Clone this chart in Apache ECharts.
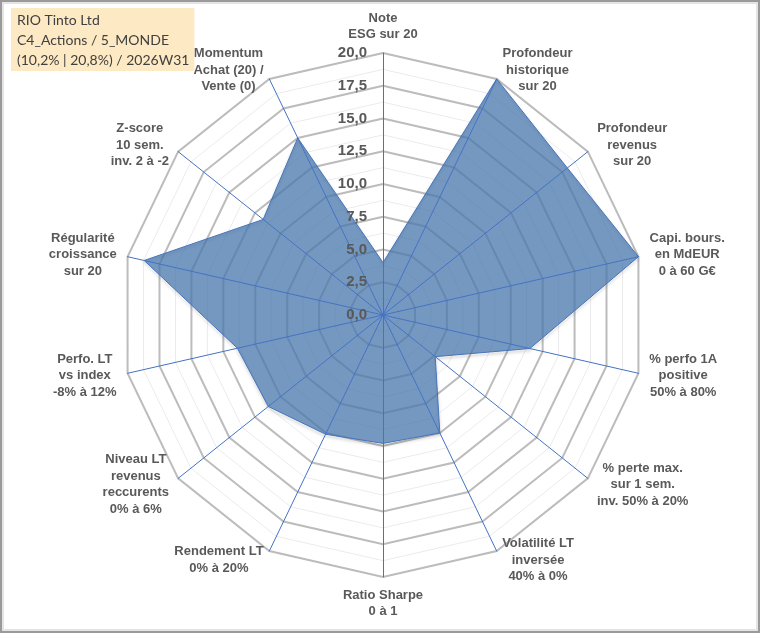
<!DOCTYPE html>
<html>
<head>
<meta charset="utf-8">
<title>RIO Tinto Ltd - radar</title>
<script src="https://cdn.jsdelivr.net/npm/echarts@6/dist/echarts.min.js"></script>
<style>
  html, body { margin: 0; padding: 0; background: #fff; }
  #chart {
    width: 760px; height: 633px; box-sizing: border-box;
    border: 2px solid #9a9a9a;
    box-shadow: inset 0 0 0 2px #e4e4e4;
  }
</style>
</head>
<body>
<div id="chart"></div>
<script>
// axes, clockwise from the top
var axisNames = [
    'Note\nESG sur 20',
    'Profondeur\nhistorique\nsur 20',
    'Profondeur\nrevenus\nsur 20',
    'Capi. bours.\nen MdEUR\n0 à 60 G€',
    '% perfo 1A\npositive\n50% à 80%',
    '% perte max.\nsur 1 sem.\ninv. 50% à 20%',
    'Volatilité LT\ninversée\n40% à 0%',
    'Ratio Sharpe\n0 à 1',
    'Rendement LT\n0% à 20%',
    'Niveau LT\nrevenus\nreccurents\n0% à 6%',
    'Perfo. LT\nvs index\n-8% à 12%',
    'Régularité\ncroissance\nsur 20',
    'Z-score\n10 sem.\ninv. 2 à -2',
    'Momentum\nAchat (20) /\nVente (0)'
];
var scores = [4.0, 20, 18.0, 20, 11.5, 5.1, 10.0, 9.8, 10.1, 11.2, 11.4, 18.7, 11.7, 15.0];
var scaleMax = 20;
var titleLines = ['RIO Tinto Ltd', 'C4_Actions / 5_MONDE', '(10,2% | 20,8%) / 2026W31'];

// echarts lays the indicators counter-clockwise, so flip everything after the first
function clockwise(arr) {
    return [arr[0]].concat(arr.slice(1).reverse());
}
var names = clockwise(axisNames);
var vals = clockwise(scores);

// width of each name block so the lines can be centred inside it
var nameFont = 'bold 13px "Liberation Sans", Arial, sans-serif';
var ctx = document.createElement('canvas').getContext('2d');
ctx.font = nameFont;
var rich = {};
names.forEach(function (n, i) {
    var w = 0;
    n.split('\n').forEach(function (l) { w = Math.max(w, ctx.measureText(l).width); });
    rich['n' + i] = {
        width: Math.ceil(w) + 2,
        align: 'center',
        fontFamily: '"Liberation Sans", Arial, sans-serif',
        fontSize: 13,
        fontWeight: 'bold',
        lineHeight: 16.5,
        color: '#595959'
    };
});

function indicators(withLabel) {
    return names.map(function (n, i) {
        var ind = { name: n, min: 0, max: scaleMax };
        if (withLabel && i === 0) {
            ind.axisLabel = { show: true };
        }
        return ind;
    });
}

var center = [381, 313];
var radius = 262;

var option = {
    animation: false,
    title: {
        text: titleLines.join('\n'),
        left: 9,
        top: 6,
        backgroundColor: '#fde9c4',
        padding: [2, 5, 1, 6],
        textStyle: {
            fontFamily: 'Lato, "Open Sans", sans-serif',
            fontSize: 14,
            fontWeight: 'normal',
            lineHeight: 20,
            color: '#404040'
        }
    },
    radar: [
        {   // minor rings
            center: center, radius: radius, shape: 'polygon',
            splitNumber: 16, indicator: indicators(false),
            axisName: { show: false },
            axisLine: { show: false },
            splitArea: { show: false },
            splitLine: { lineStyle: { color: '#ebebeb', width: 1 } }
        },
        {   // major rings
            center: center, radius: radius, shape: 'polygon',
            splitNumber: 8, indicator: indicators(false),
            axisName: { show: false },
            axisLine: { show: false },
            splitArea: { show: false },
            splitLine: { lineStyle: { color: '#bcbcbc', width: 2 } }
        },
        {   // spokes, names and tick labels above the area
            center: center, radius: radius, shape: 'polygon', z: 3,
            splitNumber: 8, indicator: indicators(true),
            nameGap: 10,
            axisName: {
                formatter: function (name) {
                    var i = names.indexOf(name);
                    return name.split('\n').map(function (l) {
                        return '{n' + i + '|' + l + '}';
                    }).join('\n');
                },
                rich: rich
            },
            axisLine: { show: true, lineStyle: { color: '#4472c4', width: 1 } },
            axisTick: { show: false },
            axisLabel: {
                show: false,
                margin: 16,
                fontFamily: '"Liberation Sans", Arial, sans-serif',
                fontSize: 15,
                fontWeight: 'bold',
                color: '#595959',
                formatter: function (v) { return v.toFixed(1).replace('.', ','); }
            },
            splitLine: { show: false },
            splitArea: { show: false }
        }
    ],
    series: [{
        type: 'radar',
        radarIndex: 1,
        symbol: 'none',
        lineStyle: {
            color: '#4472c4', width: 1,
            shadowColor: 'rgba(0,0,0,0.35)', shadowBlur: 3, shadowOffsetY: 2
        },
        areaStyle: { color: '#4a78ad', opacity: 0.76 },
        data: [{ value: vals, name: titleLines[0] }]
    }]
};

var chartDom = document.getElementById('chart');
var chart = echarts.init(chartDom);
chart.setOption(option);
</script>
</body>
</html>
